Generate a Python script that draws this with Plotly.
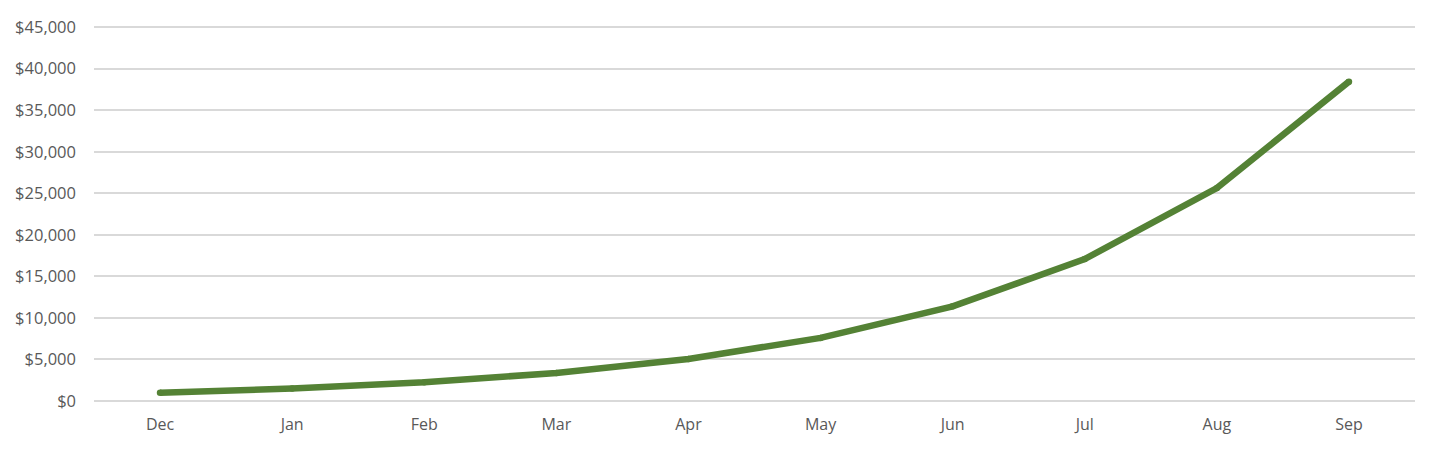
import plotly.graph_objects as go

months = ["Dec", "Jan", "Feb", "Mar", "Apr", "May", "Jun", "Jul", "Aug", "Sep"]
values = [1000, 1500, 2250, 3375, 5063, 7594, 11391, 17086, 25629, 38443]
y_ticks = [0, 5000, 10000, 15000, 20000, 25000, 30000, 35000, 40000, 45000]
y_tick_labels = ["$0", "$5,000", "$10,000", "$15,000", "$20,000", "$25,000",
                 "$30,000", "$35,000", "$40,000", "$45,000"]

fig = go.Figure(go.Scatter(
    x=months, y=values, mode="lines+markers",
    line=dict(color="#548235", width=6.5),
    marker=dict(color="#548235", size=6.5, line=dict(width=0)),
    hoverinfo="x+y",
))

fig.update_layout(
    width=1442, height=450,
    margin=dict(l=86, r=35, t=15, b=57),
    paper_bgcolor="white", plot_bgcolor="white",
    showlegend=False,
    font=dict(family="Open Sans", size=16.5, color="#595959"),
    xaxis=dict(
        type="category", range=[-0.5, 9.5], showgrid=False,
        showline=False, zeroline=False, ticks="", automargin=False,
        ticklabelstandoff=12,
        tickfont=dict(size=16, color="#595959"),
    ),
    yaxis=dict(
        range=[0, 45500], tickvals=y_ticks, ticktext=y_tick_labels,
        showgrid=True, gridcolor="#d9d9d9", gridwidth=1.5,
        zeroline=True, zerolinecolor="#d9d9d9", zerolinewidth=1.5,
        showline=False, ticks="", ticklabelstandoff=17, automargin=False,
        tickfont=dict(size=16.5, color="#595959"),
    ),
)

fig.write_html("out.html")
